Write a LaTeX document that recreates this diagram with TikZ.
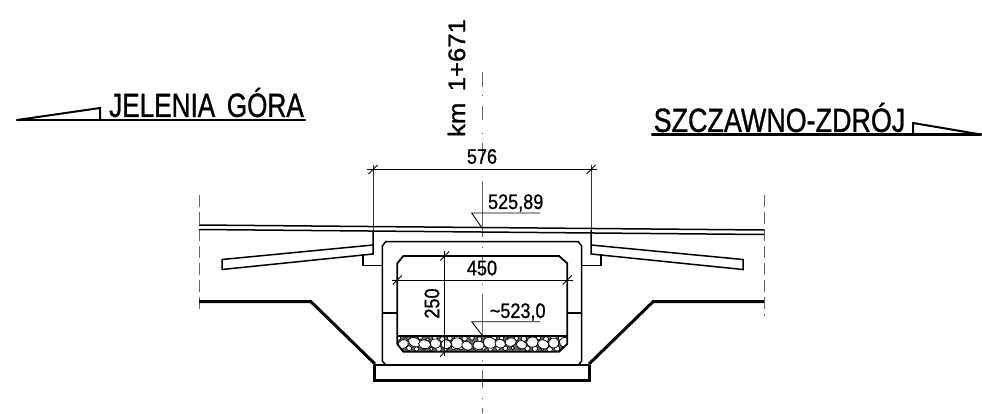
\documentclass[tikz,border=0pt]{standalone}
\usepackage{fontspec}
\setmainfont{Liberation Sans}[FakeBold=1]
\usetikzlibrary{positioning}

\begin{document}
\begin{tikzpicture}[
    x=1pt, y=-1pt,
    thinline/.style={line width=0.9pt, black!80},
    outline/.style={line width=1.5pt, black, line join=miter},
    heavy/.style={line width=3pt, black, line join=miter},
    axisline/.style={line width=1pt, black!60},
    stone/.style={draw=black, line width=0.7pt, fill=white},
    bigfont/.style={font=\fontsize{33.5}{36}\selectfont, inner sep=0pt},
    dimfont/.style={font=\fontsize{21}{23}\selectfont, inner sep=0pt},
    bigtext/.style={bigfont, xscale=0.78, transform shape},
    dimtext/.style={dimfont, xscale=0.86, transform shape}
]
\useasboundingbox (0,0) rectangle (982,413);

% Centre axis and edge lines
\foreach \ya/\yb in {72/87,94.5/95.5,106/120,132.5/133.5,143/160,169/170,181/237,246.5/247.5,257/275,283.5/284.5,294/352,359.5/360.5,370/388,397.5/398.5,408/413}
    \draw [axisline] (482,\ya) -- (482,\yb);
\draw [axisline, dash pattern=on 12pt off 5pt] (199.5,195) -- (199.5,314);
\draw [axisline, dash pattern=on 12pt off 5pt] (764,195) -- (764,316);

% Direction labels
\node [bigtext] (gora) at (206.5,102.5) {JELENIA\, GÓRA};
\node [bigtext, xscale=1.03] (zdroj) at (779.5,117.5) {SZCZAWNO-ZDRÓJ};
\draw [heavy, line width=2.4pt, line cap=round] (17,120) -- (305,120);
\draw [outline, line width=2pt] (17,120) -- (100,108) -- (100,120);
\draw [heavy, line width=2.4pt, line cap=round] (652,134.5) -- (981,134.5);
\draw [outline, line width=2pt] (913,134.5) -- (913,123) -- (981,134.5);
\node [bigfont, font=\fontsize{24}{26}\selectfont, rotate=90, xscale=1.07, transform shape] (km) at (456.5,78) {km\, 1+671};

% Road and wing walls
\draw [outline] (199,225) -- (764,230);
\draw [outline] (199,229.5) -- (764,234.5);
\draw [outline] (373,230) -- (373,254) -- (222,269.5) -- (222,259.5) -- (373,245);
\draw [outline] (591,230) -- (591,254) -- (743,269.5) -- (743,259.5) -- (591,245);
\draw [outline] (363,254) -- (363,265.7) -- (382.3,265.7);
\draw [outline] (601,254) -- (601,265.7) -- (581.7,265.7);

% Culvert walls
\draw [outline] (385.7,241.7) -- (578.3,241.7) -- (581.7,246) -- (581.7,361) -- (578.3,365)
    -- (385.7,365) -- (382.3,361) -- (382.3,246) -- cycle;

% Gravel bed
\begin{scope}
    \clip (397.3,336) -- (567.3,336) -- (567.3,344) -- (559,351.7) -- (403.3,351.7) -- (397.3,344) -- cycle;
    \fill [black!60] (397,336) rectangle (568,352);
    \pgfmathsetseed{4711}
    \foreach \i in {0,...,45}
        \draw [stone] (398+3.7*\i,{338.5+(mod(\i,2)*10)+rand}) circle ({1.8+rnd*1.0});
    \foreach \i in {0,...,15}
        \draw [stone, rotate around={25*rand:(403+10.8*\i,344)}] (403+10.8*\i,{344+2*rand})
            ellipse ({5.2+rnd*1.4} and {4+rnd*1.4});
\end{scope}

% Inner outline of the culvert
\draw [outline, line width=1.8pt] (403.3,256) -- (559,256) -- (567.3,263.3) -- (567.3,344) -- (559,351.7)
    -- (403.3,351.7) -- (397.3,344) -- (397.3,263.3) -- cycle;
\draw [outline] (382.3,313) -- (397.3,313);
\draw [outline] (567.3,313) -- (581.7,313);
\draw [outline, line width=1.8pt] (397.3,336) -- (567.3,336);

% Foundation and ground line
\draw [heavy] (199,301.7) -- (311,301.7) -- (375,364);
\draw [heavy] (764,301.7) -- (653,301.7) -- (589,364);
\draw [outline] (374.3,365) -- (589,365);
\draw [heavy] (374.3,365) -- (374.3,380) -- (589,380) -- (589,365);

% Dimensions
\draw [thinline] (373,165) -- (373,230);
\draw [thinline] (591,165) -- (591,230);
\draw [thinline, black] (367,169.5) -- (597,169.5);
\draw [thinline, black] (392,280) -- (573,280);
\draw [thinline, black] (444.7,251) -- (444.7,356);
\foreach \px/\py in {373/169.5,591/169.5,397.3/280,567.3/280,444.7/256,444.7/352}
    \draw [thinline, black] (\px-4.5,\py+4.5) -- (\px+4.5,\py-4.5);
\node [dimtext] (width) at (482,156.5) {576};
\node [dimtext] (inner) at (482,268) {450};
\node [dimfont, rotate=90, xscale=0.86, transform shape] (height) at (432,303.5) {250};

% Level marks
\draw [thinline, black] (540,213) -- (471.7,213) -- (482,228);
\draw [thinline, black] (540,321.7) -- (471.7,321.7) -- (482,335);
\node [dimtext] (top) at (515.7,203) {525,89};
\node [dimtext] (bottom) at (517.7,312) {\char"007E 523,0};

\end{tikzpicture}
\end{document}
